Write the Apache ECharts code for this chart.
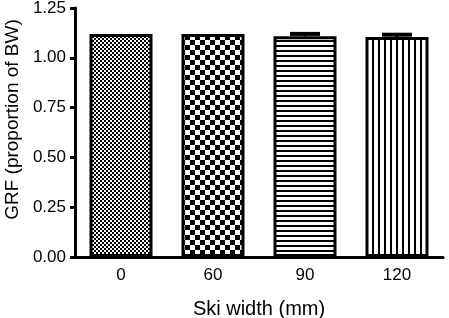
<!DOCTYPE html>
<html>
<head>
<meta charset="utf-8">
<script src="https://cdn.jsdelivr.net/npm/echarts@6/dist/echarts.min.js"></script>
<style>
  html, body { margin: 0; padding: 0; background: #fff; }
</style>
</head>
<body>
<div id="chart" style="width: 449px; height: 318px;"></div>
<script>
var categories = ['0', '60', '90', '120']
var grfValues = [1.12, 1.12, 1.108, 1.104]
var grfErrors = [0, 0, 0.012, 0.012]
var yTicks = [0, 0.25, 0.5, 0.75, 1.0, 1.25]

// hatch fills, drawn on small canvases
function makePattern(kind) {
    var c = document.createElement('canvas')
    var ctx = c.getContext('2d')
    if (kind === 'fineCheck') {
        c.width = 4; c.height = 4
        ctx.fillStyle = '#fff'; ctx.fillRect(0, 0, 4, 4)
        ctx.fillStyle = '#000'
        ctx.fillRect(0, 0, 2, 2); ctx.fillRect(2, 2, 2, 2)
    } else if (kind === 'coarseCheck') {
        c.width = 10; c.height = 10
        ctx.fillStyle = '#fff'; ctx.fillRect(0, 0, 10, 10)
        ctx.fillStyle = '#000'
        ctx.fillRect(0, 0, 5, 5); ctx.fillRect(5, 5, 5, 5)
    } else if (kind === 'hLines') {
        c.width = 5; c.height = 5
        ctx.fillStyle = '#fff'; ctx.fillRect(0, 0, 5, 5)
        ctx.fillStyle = '#000'
        ctx.fillRect(0, 0, 5, 2)
    } else {
        c.width = 6; c.height = 6
        ctx.fillStyle = '#fff'; ctx.fillRect(0, 0, 6, 6)
        ctx.fillStyle = '#000'
        ctx.fillRect(0, 0, 2, 6)
    }
    return { image: c, repeat: 'repeat' }
}

var patterns = [makePattern('fineCheck'), makePattern('coarseCheck'), makePattern('hLines'), makePattern('vLines')]

var barData = grfValues.map(function (v, i) {
    return { value: v, itemStyle: { color: patterns[i] } }
})

var errData = []
grfValues.forEach(function (v, i) {
    if (grfErrors[i] > 0) errData.push([i, v, v + grfErrors[i]])
})

var chart = echarts.init(document.getElementById('chart'))
chart.setOption({
    animation: false,
    grid: { left: 75, right: 6, top: 8, bottom: 61, outerBoundsMode: 'none' },
    xAxis: {
        type: 'category',
        data: categories,
        name: 'Ski width (mm)',
        nameLocation: 'middle',
        nameGap: 42,
        nameTextStyle: { fontFamily: 'Liberation Sans', fontSize: 20, color: '#000' },
        axisLine: { lineStyle: { color: '#000', width: 3 } },
        axisTick: { alignWithLabel: true, length: 7, lineStyle: { color: '#000', width: 3 } },
        axisLabel: { fontFamily: 'Liberation Sans', fontSize: 17, color: '#000', margin: 10 }
    },
    yAxis: {
        type: 'value',
        min: 0,
        max: 1.25,
        interval: 0.25,
        name: 'GRF (proportion of BW)',
        nameLocation: 'middle',
        nameGap: 50,
        nameTextStyle: { fontFamily: 'Liberation Sans', fontSize: 19, color: '#000', padding: [0, 0, 0, 26] },
        splitLine: { show: false },
        axisLine: { show: true, lineStyle: { color: '#000', width: 3 } },
        axisTick: { show: true, length: 5, lineStyle: { color: '#000', width: 3 } },
        axisLabel: {
            fontFamily: 'Liberation Sans', fontSize: 17, color: '#000', margin: 9,
            formatter: function (v) { return yTicks.indexOf(v) >= 0 ? v.toFixed(2) : '' }
        }
    },
    series: [
        {
            type: 'bar',
            data: barData,
            barWidth: 63,
            itemStyle: { borderColor: '#000', borderWidth: 3 }
        },
        {
            type: 'custom',
            data: errData,
            z: 3,
            renderItem: function (params, api) {
                var x = api.value(0)
                var lo = api.coord([x, api.value(1)])
                var hi = api.coord([x, api.value(2)])
                var half = 15
                return {
                    type: 'group',
                    children: [
                        { type: 'line', shape: { x1: lo[0], y1: lo[1], x2: hi[0], y2: hi[1] }, style: { stroke: '#000', lineWidth: 3 } },
                        { type: 'line', shape: { x1: hi[0] - half, y1: hi[1], x2: hi[0] + half, y2: hi[1] }, style: { stroke: '#000', lineWidth: 4 } }
                    ]
                }
            }
        }
    ]
})
</script>
</body>
</html>
